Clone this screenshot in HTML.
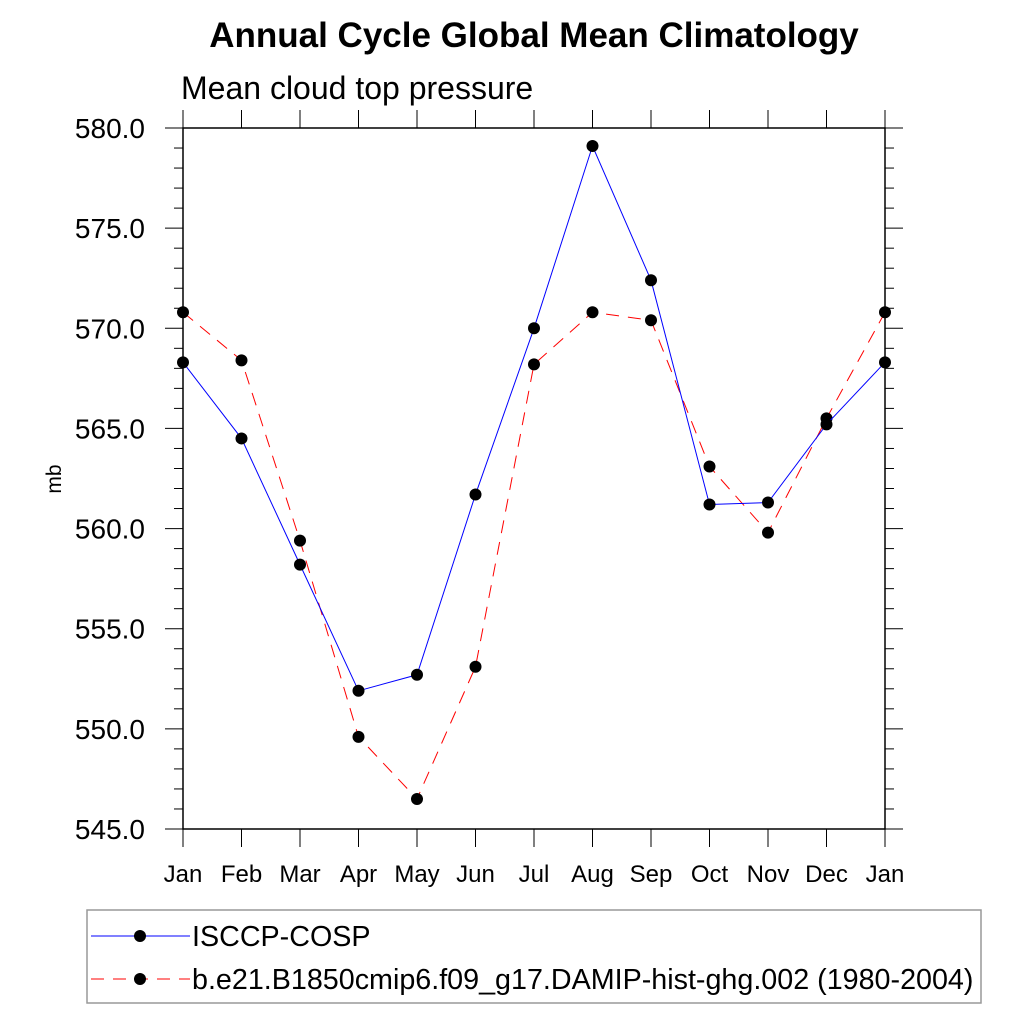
<!DOCTYPE html>
<html><head><meta charset="utf-8"><style>
html,body{margin:0;padding:0;background:#fff}
svg{display:block;font-family:"Liberation Sans",sans-serif}
</style></head><body>
<svg id="chart" width="1024" height="1024" viewBox="0 0 1024 1024">
<text x="534" y="47" text-anchor="middle" font-size="35" font-weight="bold">Annual Cycle Global Mean Climatology</text>
<text x="181" y="99" font-size="32">Mean cloud top pressure</text>
<text x="0" y="0" transform="translate(61,479) rotate(-90)" text-anchor="middle" font-size="21">mb</text>
<g id="axes"></g>
<g id="series"></g>
<rect x="87" y="910" width="894" height="93" fill="none" stroke="#999" stroke-width="1.5"/>
<g>
<line x1="91" y1="936" x2="190" y2="936" stroke="#0000ff" stroke-width="1"/>
<circle cx="140" cy="936" r="6" fill="#000"/>
<text x="192" y="946" font-size="28.7">ISCCP-COSP</text>
</g>
<g>
<line x1="91" y1="979" x2="190" y2="979" stroke="#ff0000" stroke-width="1" stroke-dasharray="13,9"/>
<circle cx="140" cy="979" r="6" fill="#000"/>
<text x="192" y="989" font-size="28.7">b.e21.B1850cmip6.f09_g17.DAMIP-hist-ghg.002 (1980-2004)</text>
</g>
</svg>
<script>
const months = ["Jan","Feb","Mar","Apr","May","Jun","Jul","Aug","Sep","Oct","Nov","Dec","Jan"];
const isccp = [568.3,564.5,558.2,551.9,552.7,561.7,570.0,579.1,572.4,561.2,561.3,565.2,568.3];
const model = [570.8,568.4,559.4,549.6,546.5,553.1,568.2,570.8,570.4,563.1,559.8,565.5,570.8];
const yTicks = [545,550,555,560,565,570,575,580];
const yTickLabels = ["545.0","550.0","555.0","560.0","565.0","570.0","575.0","580.0"];

const L=183,R=885,T=128,B=829,yMin=545,yMax=580;
const xs=i=>L+(R-L)*i/(months.length-1);
const ys=v=>B-(v-yMin)/(yMax-yMin)*(B-T);
const NS="http://www.w3.org/2000/svg";
function mk(tag,attrs,parent){const e=document.createElementNS(NS,tag);for(const k in attrs)e.setAttribute(k,attrs[k]);parent.appendChild(e);return e;}
const ax=document.getElementById('axes'), sg=document.getElementById('series');
const frame=mk('rect',{x:L,y:T,width:R-L,height:B-T,fill:'none',stroke:'#000','stroke-width':1.5},ax);


for(let v=yMin;v<=yMax;v++){
  const y=ys(v), major=(v%5===0), len=major?18:9;
  const t1=mk('line',{x1:L-len,y1:y,x2:L,y2:y,stroke:'#000','stroke-width':1},ax);
  
  
  const t2=mk('line',{x1:R,y1:y,x2:R+len,y2:y,stroke:'#000','stroke-width':1},ax);
  
  
}
yTicks.forEach((v,i)=>{
  const t=mk('text',{x:L-38,y:ys(v)+10,'text-anchor':'end','font-size':28},ax);
  t.textContent=yTickLabels[i];
  
  
});
months.forEach((m,i)=>{
  const x=xs(i);
  const a=mk('line',{x1:x,y1:B,x2:x,y2:B+18,stroke:'#000','stroke-width':1},ax);
  
  
  const b=mk('line',{x1:x,y1:T-18,x2:x,y2:T,stroke:'#000','stroke-width':1},ax);
  
  
  const t=mk('text',{x:x,y:882,'text-anchor':'middle','font-size':24},ax);
  t.textContent=m;
  
  
});
function draw(data,color,dash,name){
  const pts=data.map((v,i)=>xs(i)+','+ys(v)).join(' ');
  const pl=mk('polyline',{points:pts,fill:'none',stroke:color,'stroke-width':1,'stroke-dasharray':dash},sg);
  
  
  data.forEach((v,i)=>{
    const c=mk('circle',{cx:xs(i),cy:ys(v),r:6,fill:'#000'},sg);
    
    
  });
}
draw(model,'#ff0000','13,9','model');
draw(isccp,'#0000ff','none','isccp');
</script>
</body></html>
